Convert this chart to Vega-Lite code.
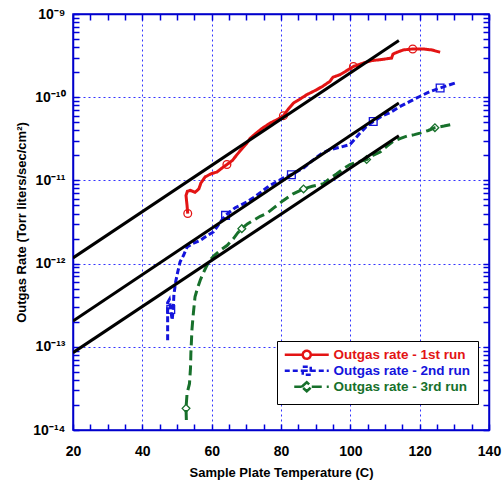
{
  "$schema": "https://vega.github.io/schema/vega-lite/v6.json",
  "width": 416,
  "height": 416,
  "autosize": {"type": "none"},
  "padding": {"left": 73, "top": 14, "right": 13, "bottom": 52},
  "background": "white",
  "config": {
    "font": "Liberation Sans",
    "view": {"stroke": "#0000cc", "strokeWidth": 1.5},
    "axis": {
      "domainColor": "#0000cc",
      "domainWidth": 1.5,
      "labelFont": "Liberation Sans",
      "labelFontWeight": "bold",
      "labelFontSize": 14,
      "labelColor": "black",
      "titleFont": "Liberation Sans",
      "titleFontWeight": "bold",
      "titleFontSize": 13,
      "titleColor": "black",
      "labelFlush": false,
      "labelOverlap": false,
      "gridColor": "#3333ff",
      "gridDash": [2, 3],
      "gridWidth": 1
    }
  },
  "datasets": {
    "fits": [
      {"fit": "a", "T": 20, "R": 1.17e-12}, {"fit": "a", "T": 114, "R": 4.8e-10},
      {"fit": "b", "T": 20, "R": 2.04e-13}, {"fit": "b", "T": 114, "R": 8.5e-11},
      {"fit": "c", "T": 20, "R": 8.5e-14}, {"fit": "c", "T": 114, "R": 3.45e-11}
    ],
    "runs": [
      {"series": "Outgas rate - 1st run", "i": 0, "T": 53.1, "R": 4.0e-12, "m": 1},
      {"series": "Outgas rate - 1st run", "i": 1, "T": 52.9, "R": 5.0e-12},
      {"series": "Outgas rate - 1st run", "i": 2, "T": 52.6, "R": 6.6e-12},
      {"series": "Outgas rate - 1st run", "i": 3, "T": 53.0, "R": 7.4e-12},
      {"series": "Outgas rate - 1st run", "i": 4, "T": 53.8, "R": 7.6e-12},
      {"series": "Outgas rate - 1st run", "i": 5, "T": 55.2, "R": 7.2e-12},
      {"series": "Outgas rate - 1st run", "i": 6, "T": 56.3, "R": 7.9e-12},
      {"series": "Outgas rate - 1st run", "i": 7, "T": 56.9, "R": 9.3e-12},
      {"series": "Outgas rate - 1st run", "i": 8, "T": 58.1, "R": 1.1e-11},
      {"series": "Outgas rate - 1st run", "i": 9, "T": 59.8, "R": 1.2e-11},
      {"series": "Outgas rate - 1st run", "i": 10, "T": 61.5, "R": 1.26e-11},
      {"series": "Outgas rate - 1st run", "i": 11, "T": 63.0, "R": 1.41e-11},
      {"series": "Outgas rate - 1st run", "i": 12, "T": 64.4, "R": 1.55e-11, "m": 1},
      {"series": "Outgas rate - 1st run", "i": 13, "T": 66.0, "R": 1.74e-11},
      {"series": "Outgas rate - 1st run", "i": 14, "T": 67.3, "R": 2.04e-11},
      {"series": "Outgas rate - 1st run", "i": 15, "T": 68.5, "R": 2.34e-11},
      {"series": "Outgas rate - 1st run", "i": 16, "T": 70.0, "R": 2.75e-11},
      {"series": "Outgas rate - 1st run", "i": 17, "T": 71.1, "R": 3.2e-11},
      {"series": "Outgas rate - 1st run", "i": 18, "T": 72.5, "R": 3.6e-11},
      {"series": "Outgas rate - 1st run", "i": 19, "T": 74.5, "R": 4.2e-11},
      {"series": "Outgas rate - 1st run", "i": 20, "T": 76.9, "R": 4.9e-11},
      {"series": "Outgas rate - 1st run", "i": 21, "T": 79.0, "R": 5.4e-11},
      {"series": "Outgas rate - 1st run", "i": 22, "T": 80.7, "R": 6.0e-11, "m": 1},
      {"series": "Outgas rate - 1st run", "i": 23, "T": 82.0, "R": 7.1e-11},
      {"series": "Outgas rate - 1st run", "i": 24, "T": 83.6, "R": 8.5e-11},
      {"series": "Outgas rate - 1st run", "i": 25, "T": 85.5, "R": 9.5e-11},
      {"series": "Outgas rate - 1st run", "i": 26, "T": 87.4, "R": 1.07e-10},
      {"series": "Outgas rate - 1st run", "i": 27, "T": 90.3, "R": 1.23e-10},
      {"series": "Outgas rate - 1st run", "i": 28, "T": 92.0, "R": 1.35e-10},
      {"series": "Outgas rate - 1st run", "i": 29, "T": 94.1, "R": 1.55e-10},
      {"series": "Outgas rate - 1st run", "i": 30, "T": 95.0, "R": 1.74e-10},
      {"series": "Outgas rate - 1st run", "i": 31, "T": 97.0, "R": 1.86e-10},
      {"series": "Outgas rate - 1st run", "i": 32, "T": 99.0, "R": 2.09e-10},
      {"series": "Outgas rate - 1st run", "i": 33, "T": 100.9, "R": 2.34e-10, "m": 1},
      {"series": "Outgas rate - 1st run", "i": 34, "T": 103.7, "R": 2.57e-10},
      {"series": "Outgas rate - 1st run", "i": 35, "T": 106.0, "R": 2.75e-10},
      {"series": "Outgas rate - 1st run", "i": 36, "T": 108.5, "R": 2.82e-10},
      {"series": "Outgas rate - 1st run", "i": 37, "T": 111.9, "R": 2.95e-10},
      {"series": "Outgas rate - 1st run", "i": 38, "T": 112.3, "R": 3.3e-10},
      {"series": "Outgas rate - 1st run", "i": 39, "T": 113.5, "R": 3.47e-10},
      {"series": "Outgas rate - 1st run", "i": 40, "T": 115.3, "R": 3.7e-10},
      {"series": "Outgas rate - 1st run", "i": 41, "T": 118.0, "R": 3.8e-10, "m": 1},
      {"series": "Outgas rate - 1st run", "i": 42, "T": 121.0, "R": 3.8e-10},
      {"series": "Outgas rate - 1st run", "i": 43, "T": 123.5, "R": 3.7e-10},
      {"series": "Outgas rate - 1st run", "i": 44, "T": 125.9, "R": 3.47e-10},
      {"series": "Outgas rate - 2nd run", "i": 45, "T": 47.3, "R": 1.2e-13},
      {"series": "Outgas rate - 2nd run", "i": 46, "T": 47.3, "R": 2.0e-13},
      {"series": "Outgas rate - 2nd run", "i": 47, "T": 47.3, "R": 3.4e-13},
      {"series": "Outgas rate - 2nd run", "i": 48, "T": 47.8, "R": 3.7e-13},
      {"series": "Outgas rate - 2nd run", "i": 49, "T": 48.2, "R": 2.8e-13, "m": 1},
      {"series": "Outgas rate - 2nd run", "i": 50, "T": 48.6, "R": 2.1e-13},
      {"series": "Outgas rate - 2nd run", "i": 51, "T": 48.9, "R": 2.8e-13},
      {"series": "Outgas rate - 2nd run", "i": 52, "T": 49.1, "R": 4.2e-13},
      {"series": "Outgas rate - 2nd run", "i": 53, "T": 49.6, "R": 6.0e-13},
      {"series": "Outgas rate - 2nd run", "i": 54, "T": 50.2, "R": 7.9e-13},
      {"series": "Outgas rate - 2nd run", "i": 55, "T": 50.9, "R": 1.05e-12},
      {"series": "Outgas rate - 2nd run", "i": 56, "T": 51.9, "R": 1.26e-12},
      {"series": "Outgas rate - 2nd run", "i": 57, "T": 52.9, "R": 1.58e-12},
      {"series": "Outgas rate - 2nd run", "i": 58, "T": 54.5, "R": 1.74e-12},
      {"series": "Outgas rate - 2nd run", "i": 59, "T": 56.7, "R": 1.9e-12},
      {"series": "Outgas rate - 2nd run", "i": 60, "T": 58.5, "R": 2.14e-12},
      {"series": "Outgas rate - 2nd run", "i": 61, "T": 60.5, "R": 2.4e-12},
      {"series": "Outgas rate - 2nd run", "i": 62, "T": 62.5, "R": 3.16e-12},
      {"series": "Outgas rate - 2nd run", "i": 63, "T": 64.0, "R": 3.8e-12, "m": 1},
      {"series": "Outgas rate - 2nd run", "i": 64, "T": 65.3, "R": 4.2e-12},
      {"series": "Outgas rate - 2nd run", "i": 65, "T": 66.8, "R": 4.7e-12},
      {"series": "Outgas rate - 2nd run", "i": 66, "T": 68.2, "R": 5.0e-12},
      {"series": "Outgas rate - 2nd run", "i": 67, "T": 70.1, "R": 5.5e-12},
      {"series": "Outgas rate - 2nd run", "i": 68, "T": 72.0, "R": 6.2e-12},
      {"series": "Outgas rate - 2nd run", "i": 69, "T": 74.0, "R": 7.1e-12},
      {"series": "Outgas rate - 2nd run", "i": 70, "T": 76.4, "R": 8.5e-12},
      {"series": "Outgas rate - 2nd run", "i": 71, "T": 78.5, "R": 9.5e-12},
      {"series": "Outgas rate - 2nd run", "i": 72, "T": 80.7, "R": 1.07e-11},
      {"series": "Outgas rate - 2nd run", "i": 73, "T": 83.0, "R": 1.17e-11, "m": 1},
      {"series": "Outgas rate - 2nd run", "i": 74, "T": 86.5, "R": 1.41e-11},
      {"series": "Outgas rate - 2nd run", "i": 75, "T": 88.5, "R": 1.66e-11},
      {"series": "Outgas rate - 2nd run", "i": 76, "T": 90.3, "R": 1.9e-11},
      {"series": "Outgas rate - 2nd run", "i": 77, "T": 92.0, "R": 2.14e-11},
      {"series": "Outgas rate - 2nd run", "i": 78, "T": 94.1, "R": 2.34e-11},
      {"series": "Outgas rate - 2nd run", "i": 79, "T": 97.0, "R": 2.5e-11},
      {"series": "Outgas rate - 2nd run", "i": 80, "T": 99.9, "R": 2.7e-11},
      {"series": "Outgas rate - 2nd run", "i": 81, "T": 101.5, "R": 3.2e-11},
      {"series": "Outgas rate - 2nd run", "i": 82, "T": 102.8, "R": 3.7e-11},
      {"series": "Outgas rate - 2nd run", "i": 83, "T": 104.5, "R": 4.4e-11},
      {"series": "Outgas rate - 2nd run", "i": 84, "T": 106.6, "R": 5.1e-11, "m": 1},
      {"series": "Outgas rate - 2nd run", "i": 85, "T": 109.0, "R": 5.9e-11},
      {"series": "Outgas rate - 2nd run", "i": 86, "T": 111.4, "R": 6.5e-11},
      {"series": "Outgas rate - 2nd run", "i": 87, "T": 114.0, "R": 7.6e-11},
      {"series": "Outgas rate - 2nd run", "i": 88, "T": 117.2, "R": 8.9e-11},
      {"series": "Outgas rate - 2nd run", "i": 89, "T": 120.0, "R": 1.02e-10},
      {"series": "Outgas rate - 2nd run", "i": 90, "T": 123.0, "R": 1.17e-10},
      {"series": "Outgas rate - 2nd run", "i": 91, "T": 125.9, "R": 1.29e-10, "m": 1},
      {"series": "Outgas rate - 2nd run", "i": 92, "T": 128.0, "R": 1.38e-10},
      {"series": "Outgas rate - 2nd run", "i": 93, "T": 130.2, "R": 1.48e-10},
      {"series": "Outgas rate - 3rd run", "i": 94, "T": 52.7, "R": 1.32e-14},
      {"series": "Outgas rate - 3rd run", "i": 95, "T": 52.6, "R": 1.82e-14, "m": 1},
      {"series": "Outgas rate - 3rd run", "i": 96, "T": 52.9, "R": 2.75e-14},
      {"series": "Outgas rate - 3rd run", "i": 97, "T": 53.6, "R": 3.6e-14},
      {"series": "Outgas rate - 3rd run", "i": 98, "T": 53.9, "R": 5.6e-14},
      {"series": "Outgas rate - 3rd run", "i": 99, "T": 54.0, "R": 8.3e-14},
      {"series": "Outgas rate - 3rd run", "i": 100, "T": 54.2, "R": 1.26e-13},
      {"series": "Outgas rate - 3rd run", "i": 101, "T": 54.3, "R": 1.58e-13},
      {"series": "Outgas rate - 3rd run", "i": 102, "T": 54.6, "R": 2.24e-13},
      {"series": "Outgas rate - 3rd run", "i": 103, "T": 55.2, "R": 4.0e-13},
      {"series": "Outgas rate - 3rd run", "i": 104, "T": 56.0, "R": 5.2e-13},
      {"series": "Outgas rate - 3rd run", "i": 105, "T": 56.7, "R": 6.3e-13},
      {"series": "Outgas rate - 3rd run", "i": 106, "T": 57.5, "R": 7.6e-13},
      {"series": "Outgas rate - 3rd run", "i": 107, "T": 58.4, "R": 9.1e-13},
      {"series": "Outgas rate - 3rd run", "i": 108, "T": 59.5, "R": 1.1e-12},
      {"series": "Outgas rate - 3rd run", "i": 109, "T": 60.8, "R": 1.26e-12},
      {"series": "Outgas rate - 3rd run", "i": 110, "T": 62.5, "R": 1.45e-12},
      {"series": "Outgas rate - 3rd run", "i": 111, "T": 64.5, "R": 1.66e-12},
      {"series": "Outgas rate - 3rd run", "i": 112, "T": 66.3, "R": 2.0e-12},
      {"series": "Outgas rate - 3rd run", "i": 113, "T": 67.5, "R": 2.34e-12},
      {"series": "Outgas rate - 3rd run", "i": 114, "T": 68.7, "R": 2.63e-12, "m": 1},
      {"series": "Outgas rate - 3rd run", "i": 115, "T": 70.3, "R": 3.0e-12},
      {"series": "Outgas rate - 3rd run", "i": 116, "T": 72.0, "R": 3.3e-12},
      {"series": "Outgas rate - 3rd run", "i": 117, "T": 74.0, "R": 3.7e-12},
      {"series": "Outgas rate - 3rd run", "i": 118, "T": 75.9, "R": 4.0e-12},
      {"series": "Outgas rate - 3rd run", "i": 119, "T": 78.0, "R": 4.7e-12},
      {"series": "Outgas rate - 3rd run", "i": 120, "T": 80.7, "R": 5.75e-12},
      {"series": "Outgas rate - 3rd run", "i": 121, "T": 83.5, "R": 6.9e-12},
      {"series": "Outgas rate - 3rd run", "i": 122, "T": 86.5, "R": 7.9e-12, "m": 1},
      {"series": "Outgas rate - 3rd run", "i": 123, "T": 89.0, "R": 8.5e-12},
      {"series": "Outgas rate - 3rd run", "i": 124, "T": 92.2, "R": 9.1e-12},
      {"series": "Outgas rate - 3rd run", "i": 125, "T": 94.0, "R": 1.05e-11},
      {"series": "Outgas rate - 3rd run", "i": 126, "T": 96.1, "R": 1.2e-11},
      {"series": "Outgas rate - 3rd run", "i": 127, "T": 98.0, "R": 1.38e-11},
      {"series": "Outgas rate - 3rd run", "i": 128, "T": 99.9, "R": 1.55e-11},
      {"series": "Outgas rate - 3rd run", "i": 129, "T": 102.0, "R": 1.66e-11},
      {"series": "Outgas rate - 3rd run", "i": 130, "T": 104.7, "R": 1.78e-11, "m": 1},
      {"series": "Outgas rate - 3rd run", "i": 131, "T": 106.5, "R": 2.0e-11},
      {"series": "Outgas rate - 3rd run", "i": 132, "T": 108.6, "R": 2.19e-11},
      {"series": "Outgas rate - 3rd run", "i": 133, "T": 110.5, "R": 2.57e-11},
      {"series": "Outgas rate - 3rd run", "i": 134, "T": 112.4, "R": 2.95e-11},
      {"series": "Outgas rate - 3rd run", "i": 135, "T": 114.5, "R": 3.2e-11},
      {"series": "Outgas rate - 3rd run", "i": 136, "T": 116.3, "R": 3.4e-11},
      {"series": "Outgas rate - 3rd run", "i": 137, "T": 118.5, "R": 3.55e-11},
      {"series": "Outgas rate - 3rd run", "i": 138, "T": 120.1, "R": 3.7e-11},
      {"series": "Outgas rate - 3rd run", "i": 139, "T": 122.5, "R": 3.98e-11},
      {"series": "Outgas rate - 3rd run", "i": 140, "T": 124.4, "R": 4.3e-11, "m": 1},
      {"series": "Outgas rate - 3rd run", "i": 141, "T": 127.0, "R": 4.5e-11},
      {"series": "Outgas rate - 3rd run", "i": 142, "T": 130.2, "R": 4.8e-11}
    ]
  },
  "layer": [
    {
      "data": {"name": "runs"},
      "mark": {"type": "line", "strokeWidth": 3, "clip": true},
      "encoding": {
        "x": {
          "field": "T", "type": "quantitative",
          "scale": {"domain": [20, 140], "nice": false, "zero": false},
          "axis": {
            "orient": "bottom",
            "values": [20,25,30,35,40,45,50,55,60,65,70,75,80,85,90,95,100,105,110,115,120,125,130,135,140],
            "labelExpr": "datum.value % 20 == 0 ? datum.label : ''",
            "title": "Sample Plate Temperature (C)",
            "grid": true,
            "gridOpacity": {"condition": {"test": "datum.value % 20 == 0", "value": 1}, "value": 0},
            "ticks": true,
            "tickSize": -6,
            "tickColor": "#0000dd",
            "tickWidth": 1.5,
            "labelPadding": 20,
            "titleY": 36
          }
        },
        "y": {
          "field": "R", "type": "quantitative",
          "scale": {"type": "log", "domain": [1e-14, 1e-9], "nice": false},
          "axis": {
            "orient": "left",
            "values": [1e-14,2e-14,3e-14,4e-14,5e-14,6e-14,7e-14,8e-14,9e-14,1e-13,2e-13,3e-13,4e-13,5e-13,6e-13,7e-13,8e-13,9e-13,1e-12,2e-12,3e-12,4e-12,5e-12,6e-12,7e-12,8e-12,9e-12,1e-11,2e-11,3e-11,4e-11,5e-11,6e-11,7e-11,8e-11,9e-11,1e-10,2e-10,3e-10,4e-10,5e-10,6e-10,7e-10,8e-10,9e-10,1e-9],
            "labelExpr": "abs(log(datum.value)/LN10 - round(log(datum.value)/LN10)) < 0.01 ? '10' + ['⁻¹⁴','⁻¹³','⁻¹²','⁻¹¹','⁻¹⁰','⁻⁹'][round(log(datum.value)/LN10) + 14] : ''",
            "title": "Outgas Rate  (Torr liters/sec/cm²)",
            "grid": true,
            "gridOpacity": {"condition": {"test": "abs(log(datum.value)/LN10 - round(log(datum.value)/LN10)) < 0.01", "value": 1}, "value": 0},
            "ticks": true,
            "tickSize": -6,
            "tickColor": "#0000dd",
            "tickWidth": 1.5,
            "labelPadding": 14,
            "titleX": -45
          }
        },
        "color": {
          "field": "series", "type": "nominal",
          "scale": {"domain": ["Outgas rate - 1st run", "Outgas rate - 2nd run", "Outgas rate - 3rd run"], "range": ["#e31414", "#1414dc", "#17702b"]},
          "legend": {
            "orient": "none",
            "legendX": 204,
            "legendY": 327,
            "title": null,
            "fillColor": "white",
            "strokeColor": "black",
            "padding": 7,
            "labelFont": "Liberation Sans",
            "labelFontWeight": "bold",
            "labelFontSize": 13.5,
            "labelLimit": 300,
            "symbolSize": 100,
            "symbolOffset": 16,
            "labelOffset": 20,
            "rowPadding": -3,
            "symbolStrokeWidth": 2.5,
            "encode": {
              "symbols": {
                "update": {
                  "shape": {"signal": "datum.value == 'Outgas rate - 1st run' ? 'M-4.4,0H-0.8M0.8,0H4.4M0.8,0A0.8,0.8,0,1,1,-0.8,0A0.8,0.8,0,1,1,0.8,0' : datum.value == 'Outgas rate - 2nd run' ? 'M-4.4,0H-0.8M0.8,0H4.4M-0.8,-0.8H0.8V0.8H-0.8ZM-0.8,0H0.8' : 'M-2.5,0H-1M1,0H4.4M-1,0L0,-0.9L1,0L0,0.9Z'"},
                  "strokeDash": {"signal": "datum.value == 'Outgas rate - 1st run' ? [1,0] : datum.value == 'Outgas rate - 2nd run' ? [5,3] : [10,5]"},
                  "stroke": {"signal": "scale('color', datum.value)"},
                  "fill": {"value": "transparent"},
                  "strokeWidth": {"value": 2.5},
                  "opacity": {"value": 1}
                }
              },
              "labels": {
                "update": {
                  "fill": {"signal": "scale('color', datum.value)"}
                }
              }
            }
          }
        },
        "strokeDash": {
          "field": "series", "type": "nominal",
          "scale": {"domain": ["Outgas rate - 2nd run", "Outgas rate - 3rd run", "Outgas rate - 1st run"], "range": [[6, 3], [10, 5], [1, 0]]},
          "legend": null
        },
        "order": {"field": "i", "type": "quantitative"}
      }
    },
    {
      "data": {"name": "runs"},
      "transform": [{"filter": "datum.m == 1"}],
      "mark": {"type": "point", "filled": false, "strokeWidth": 1.3, "size": 60, "opacity": 1, "clip": true},
      "encoding": {
        "x": {"field": "T", "type": "quantitative", "axis": null},
        "y": {"field": "R", "type": "quantitative", "axis": null},
        "color": {"field": "series", "type": "nominal", "legend": null},
        "shape": {
          "field": "series", "type": "nominal",
          "scale": {"domain": ["Outgas rate - 3rd run", "Outgas rate - 1st run", "Outgas rate - 2nd run"], "range": ["diamond", "circle", "square"]},
          "legend": null
        }
      }
    },
    {
      "data": {"name": "fits"},
      "mark": {"type": "line", "color": "black", "strokeWidth": 3, "clip": true},
      "encoding": {
        "x": {
          "field": "T", "type": "quantitative",
          "axis": {
            "orient": "top",
            "values": [20,25,30,35,40,45,50,55,60,65,70,75,80,85,90,95,100,105,110,115,120,125,130,135,140],
            "labels": false, "title": null, "grid": false, "ticks": true, "tickSize": -6, "tickColor": "#0000dd", "tickWidth": 1.5
          }
        },
        "y": {
          "field": "R", "type": "quantitative",
          "axis": {
            "orient": "right",
            "values": [1e-14,2e-14,3e-14,4e-14,5e-14,6e-14,7e-14,8e-14,9e-14,1e-13,2e-13,3e-13,4e-13,5e-13,6e-13,7e-13,8e-13,9e-13,1e-12,2e-12,3e-12,4e-12,5e-12,6e-12,7e-12,8e-12,9e-12,1e-11,2e-11,3e-11,4e-11,5e-11,6e-11,7e-11,8e-11,9e-11,1e-10,2e-10,3e-10,4e-10,5e-10,6e-10,7e-10,8e-10,9e-10,1e-9],
            "labels": false, "title": null, "grid": false, "ticks": true, "tickSize": -6, "tickColor": "#0000dd", "tickWidth": 1.5
          }
        },
        "detail": {"field": "fit", "type": "nominal"}
      }
    }
  ],
  "resolve": {"axis": {"x": "independent", "y": "independent"}}
}
